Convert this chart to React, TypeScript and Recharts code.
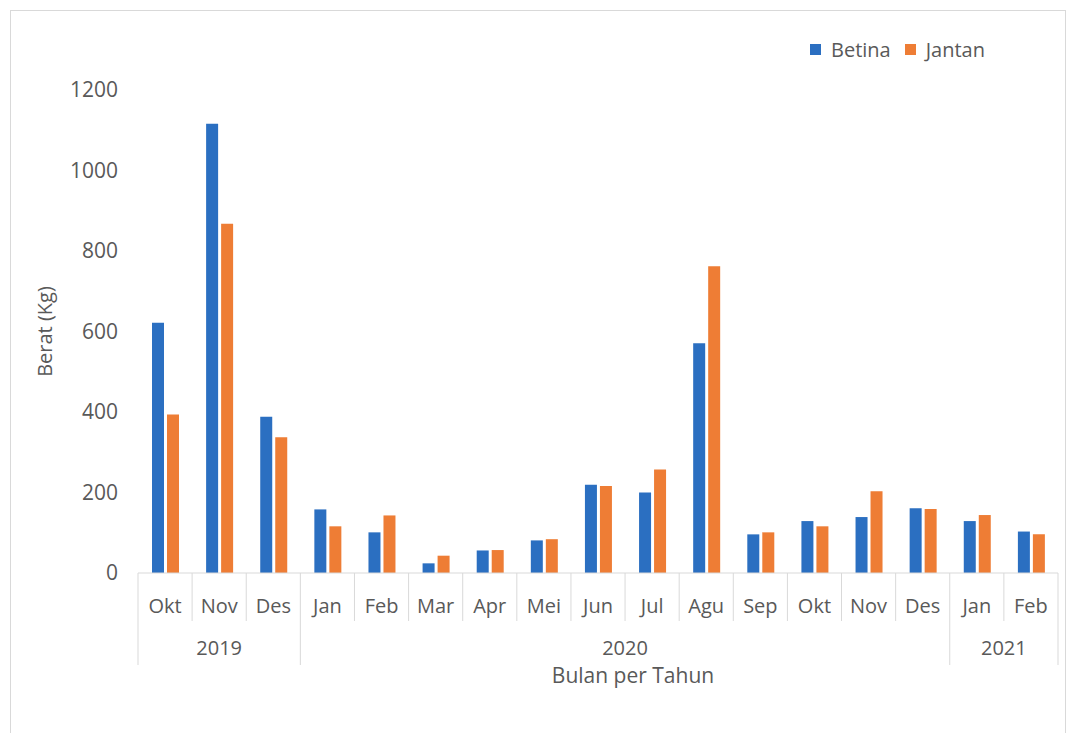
import { BarChart, Bar, XAxis, YAxis, Legend } from 'recharts';

const months = ['Okt', 'Nov', 'Des', 'Jan', 'Feb', 'Mar', 'Apr', 'Mei', 'Jun', 'Jul', 'Agu', 'Sep', 'Okt', 'Nov', 'Des', 'Jan', 'Feb'];
const years = ['2019', '2019', '2019', '2020', '2020', '2020', '2020', '2020', '2020', '2020', '2020', '2020', '2020', '2020', '2020', '2021', '2021'];
const betina = [622, 1116, 388, 158, 101, 24, 56, 81, 219, 200, 571, 96, 129, 139, 161, 129, 103];
const jantan = [394, 868, 337, 116, 143, 43, 57, 84, 216, 257, 762, 101, 116, 203, 159, 144, 96];
const yTicks = [0, 200, 400, 600, 800, 1000, 1200];

const BLUE = '#2B6FC1';
const ORANGE = '#EE7D35';
const TEXT = '#595959';
const LINE = '#D9D9D9';
const FONT = '"Open Sans", sans-serif';

const W = 1054;
const H = 722;
const TOP = 79;
const LEFT = 127;
const RIGHT = 7;
const PLOT_W = W - LEFT - RIGHT;
const PLOT_H = 483;
const BASE_Y = TOP + PLOT_H;

const data = months.map((m, i) => ({ month: m, year: years[i], betina: betina[i], jantan: jantan[i] }));

function MonthTick(props: any) {
  const { x, index, payload } = props;
  const band = PLOT_W / months.length;
  const left = x - band / 2;
  const right = x + band / 2;
  const i = index;
  const groupStart = i === 0 || years[i] !== years[i - 1];
  const last = i === months.length - 1;
  let span = 0;
  if (groupStart) {
    while (i + span < years.length && years[i + span] === years[i]) span++;
  }
  return (
    <g>
      <line x1={left} x2={left} y1={BASE_Y} y2={groupStart ? BASE_Y + 92 : BASE_Y + 48} stroke={LINE} />
      {last && <line x1={right} x2={right} y1={BASE_Y} y2={BASE_Y + 92} stroke={LINE} />}
      <text x={x} y={BASE_Y + 32} textAnchor="middle" dominantBaseline="central" fill={TEXT} fontSize={20} fontFamily={FONT}>
        {payload.value}
      </text>
      {groupStart && (
        <text x={left + (span * band) / 2} y={BASE_Y + 74} textAnchor="middle" dominantBaseline="central" fill={TEXT} fontSize={20} fontFamily={FONT}>
          {years[i]}
        </text>
      )}
    </g>
  );
}

function LegendContent() {
  const items = [
    { name: 'Betina', color: BLUE },
    { name: 'Jantan', color: ORANGE },
  ];
  return (
    <div style={{ display: 'flex', alignItems: 'center', fontFamily: FONT, fontSize: 20, color: TEXT }}>
      {items.map((it) => (
        <div key={it.name} style={{ display: 'flex', alignItems: 'center', marginRight: 14 }}>
          <div style={{ width: 11, height: 11, background: it.color, marginRight: 10 }} />
          <span>{it.name}</span>
        </div>
      ))}
    </div>
  );
}

export default function App() {
  return (
    <div style={{ marginLeft: 2, marginTop: 2, width: W, height: 740, border: `1px solid ${LINE}`, position: 'relative', fontFamily: FONT }}>
      <BarChart
        width={W}
        height={H}
        data={data}
        margin={{ top: TOP, right: RIGHT, left: 0, bottom: H - TOP - PLOT_H - 160 }}
        barSize={12}
        barGap={3}
      >
        <XAxis
          dataKey="month"
          height={160}
          interval={0}
          tickLine={false}
          axisLine={{ stroke: LINE }}
          tick={<MonthTick />}
          label={{
            value: 'Bulan per Tahun',
            position: 'insideTop',
            offset: 95,
            dx: 35,
            fill: TEXT,
            fontSize: 21,
            fontFamily: FONT,
          }}
        />
        <YAxis
          width={LEFT}
          domain={[0, 1200]}
          ticks={yTicks}
          interval={0}
          axisLine={false}
          tickLine={false}
          tickSize={0}
          tickMargin={20}
          tick={{ fill: TEXT, fontSize: 21, fontFamily: FONT }}
          label={{
            value: 'Berat (Kg)',
            angle: -90,
            position: 'insideLeft',
            offset: 34,
            fill: TEXT,
            fontSize: 20,
            fontFamily: FONT,
            style: { textAnchor: 'middle' },
          }}
        />
        <Legend
          content={<LegendContent />}
          verticalAlign="middle"
          align="center"
          layout="horizontal"
          wrapperStyle={{ top: 25, left: 799, width: 250 }}
        />
        <Bar dataKey="betina" name="Betina" fill={BLUE} isAnimationActive={false} />
        <Bar dataKey="jantan" name="Jantan" fill={ORANGE} isAnimationActive={false} />
      </BarChart>
    </div>
  );
}
